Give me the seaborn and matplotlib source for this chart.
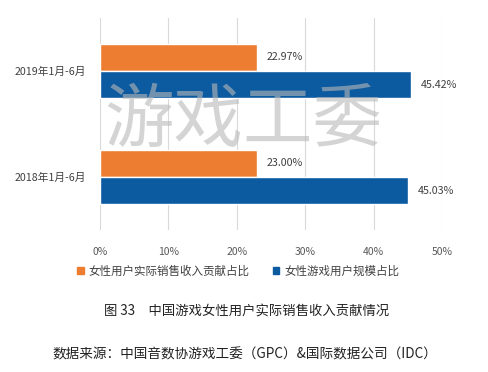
import matplotlib
matplotlib.use("Agg")
import matplotlib.pyplot as plt
import pandas as pd
import seaborn as sns

periods = ["2019年1月-6月", "2018年1月-6月"]
series_names = ["女性用户实际销售收入贡献占比", "女性游戏用户规模占比"]
revenue_share = [22.97, 23.00]
user_share = [45.42, 45.03]
colors = ["#ED7D31", "#0C5AA0"]
x_ticks = [0, 10, 20, 30, 40, 50]

rows = []
for period, rev, usr in zip(periods, revenue_share, user_share):
    rows.append({"period": period, "series": series_names[0], "value": rev})
    rows.append({"period": period, "series": series_names[1], "value": usr})
df = pd.DataFrame(rows)

sns.set_style("white")
plt.rcParams["font.family"] = ["Noto Sans CJK SC", "DejaVu Sans"]

fig = plt.figure(figsize=(4.89, 3.72), dpi=100)
ax = fig.add_axes([100 / 489, 1 - 230 / 372, 342 / 489, 212 / 372])

sns.barplot(data=df, y="period", x="value", hue="series", order=periods,
            hue_order=series_names, palette=colors, orient="h",
            width=0.51, gap=0, saturation=1, ax=ax, legend=False)

ax.set_xlim(0, 50)
ax.set_xticks(x_ticks)
ax.set_xticklabels([f"{t}%" for t in x_ticks], fontsize=7.5, color="#595959")
ax.tick_params(axis="x", length=0, pad=12)
ax.tick_params(axis="y", length=0, pad=10, labelsize=7.7, labelcolor="#404040")
ax.set_xlabel("")
ax.set_ylabel("")
ax.grid(axis="x", color="#d9d9d9", linewidth=0.8)
ax.set_axisbelow(True)
for spine in ax.spines.values():
    spine.set_visible(False)

for container in ax.containers:
    ax.bar_label(container, labels=[f"{v:.2f}%" for v in container.datavalues],
                 padding=7, fontsize=7.7, color="#404040")

# watermark
fig.text(243 / 489, 1 - 121 / 372, "游戏工委", fontsize=50, color="#b8b8b8",
         alpha=0.6, ha="center", va="center", zorder=10)

handles = [plt.Rectangle((0, 0), 1, 1, color=c) for c in colors]
fig.legend(handles, series_names, loc="center", bbox_to_anchor=(238 / 489, 1 - 271 / 372),
           ncol=2, frameon=False, fontsize=8.3, handlelength=0.6, handleheight=0.6,
           handletextpad=0.4, columnspacing=2.0, labelcolor="#404040")

fig.text(247 / 489, 1 - 311 / 372, "图 33　中国游戏女性用户实际销售收入贡献情况",
         fontsize=9.6, ha="center", va="center", color="#222222")
fig.text(245 / 489, 1 - 354 / 372, "数据来源：中国音数协游戏工委（GPC）&国际数据公司（IDC）",
         fontsize=9.8, ha="center", va="center", color="#222222")

fig.savefig("out.png", dpi=100)
